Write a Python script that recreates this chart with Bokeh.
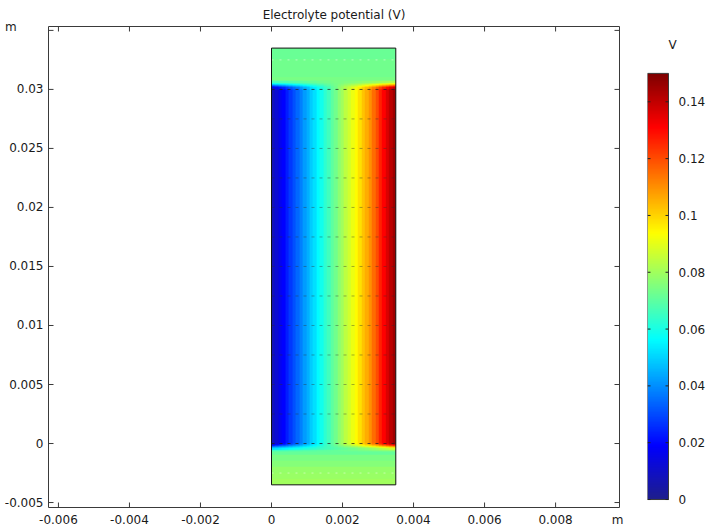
import numpy as np
from bokeh.plotting import figure
from bokeh.models import (Range1d, FixedTicker, LinearAxis, CustomJSTickFormatter,
                          LinearColorMapper, Label)
from bokeh.layouts import row
from bokeh.embed import file_html
from bokeh.resources import INLINE

# ---------------- data ----------------
# electrolyte potential across the channel (0 <= y <= 0.03)
channel_x = [0.0000, 0.0001, 0.0002, 0.0003, 0.0004, 0.0005, 0.0006, 0.0007, 0.0008,
             0.0009, 0.0010, 0.0011, 0.0012, 0.0013, 0.0014, 0.0015, 0.0016, 0.0017,
             0.0018, 0.0019, 0.0020, 0.0021, 0.0022, 0.0023, 0.0024, 0.0025, 0.0026,
             0.0027, 0.0028, 0.0029, 0.0030, 0.0031, 0.0032, 0.0033, 0.0034, 0.0035]
channel_phi = [0.008, 0.012, 0.016, 0.019, 0.023, 0.027, 0.031, 0.034, 0.038,
               0.042, 0.045, 0.049, 0.052, 0.056, 0.059, 0.063, 0.066, 0.070,
               0.073, 0.077, 0.080, 0.084, 0.087, 0.091, 0.094, 0.098, 0.102,
               0.106, 0.110, 0.115, 0.120, 0.126, 0.131, 0.136, 0.141, 0.145]
# reservoir above (bands of 0.0005 m going up from y=0.03)
top_phi = [0.074, 0.074, 0.073, 0.073, 0.073, 0.072, 0.072]
# reservoir below (bands of 0.0005 m going down from y=0)
bottom_phi = [0.067, 0.071, 0.074, 0.076, 0.078, 0.079, 0.080]
# share of the channel profile in the first rows next to each interface
top_blend = [0.92, 0.78, 0.6, 0.42, 0.26, 0.12, 0.04]
bottom_blend = [0.92, 0.78, 0.6, 0.42, 0.26, 0.12, 0.04]

domain_x = [0.0, 0.0035]
domain_y = [-0.0035, 0.0335]
channel_y = [0.0, 0.03]

dash_strong_y = [0.0, 0.03]
dash_mid_y = [0.0025, 0.005, 0.0075, 0.01, 0.0125, 0.015, 0.0175, 0.02, 0.0225, 0.025, 0.0275]
dash_faint_y = [-0.0025, 0.0325]

x_ticks = [-0.006, -0.004, -0.002, 0.0, 0.002, 0.004, 0.006, 0.008]
x_labels = ["-0.006", "-0.004", "-0.002", "0", "0.002", "0.004", "0.006", "0.008"]
y_ticks = [-0.005, 0.0, 0.005, 0.01, 0.015, 0.02, 0.025, 0.03, 0.035]
y_labels = ["-0.005", "0", "0.005", "0.01", "0.015", "0.02", "0.025", "0.03", ""]
cb_ticks = [0.0, 0.02, 0.04, 0.06, 0.08, 0.1, 0.12, 0.14]
cb_labels = ["0", "0.02", "0.04", "0.06", "0.08", "0.1", "0.12", "0.14"]
phi_min, phi_max = 0.0, 0.15
x_lo, x_hi = -0.00628, 0.0098
y_lo, y_hi = -0.00542, 0.03533

title_text = "Electrolyte potential (V)"
unit_text = "m"
cb_title = "V"

FONT = "DejaVu Sans"
FS = "12px"
TXT = "#1a1a1a"
FRAME = "#3a3a3a"

# layout (pixels)
W1, W2, H = 633, 75, 529
ML, MR, MT, MB = 48, 14, 26, 21
FW, FH = W1 - ML - MR, H - MT - MB
CL, CR = 14, 31
CFW = W2 - CL - CR          # colour-bar figure frame width
BAR_W = 21                  # colour bar width in px
BAR_TOP, BAR_BOT = 73, 500  # pixel rows of phi_max and phi_min in the colour bar
TICK = 5

per_px = (phi_max - phi_min) / (BAR_BOT - BAR_TOP)
cb_lo = phi_min - (H - MB - BAR_BOT) * per_px
cb_hi = phi_max + (BAR_TOP - MT) * per_px

# pixel -> data helpers for the main figure (text placement only)
def px_x(px):
    return x_lo + (px - ML) * (x_hi - x_lo) / FW

def px_y(py):
    return y_lo + (H - MB - py) * (y_hi - y_lo) / FH

# ---------------- colormap (jet-like rainbow) ----------------
def jet_palette(n=256):
    out = []
    for t in np.linspace(0, 1, n):
        r = np.clip(1.5 - abs(4 * t - 3), 0, 1)
        g = np.clip(1.5 - abs(4 * t - 2), 0, 1)
        b = np.clip(1.5 - abs(4 * t - 1), 0, 1)
        if t < 0.125:
            k = (0.125 - t) / 0.125
            r = r + 0.12 * k
            g = g + 0.12 * k
            b = b + 0.05 * k
        out.append("#%02x%02x%02x" % (int(r * 255), int(g * 255), int(min(b, 1) * 255)))
    return out

palette = jet_palette()
mapper = LinearColorMapper(palette=palette, low=phi_min, high=phi_max)

# ---------------- field image ----------------
dy = 0.0001
band = 0.0005
nrows = int(round((domain_y[1] - domain_y[0]) / dy))
prof = np.array(channel_phi)
rows = []
for i in range(nrows):
    yc = domain_y[0] + (i + 0.5) * dy
    if channel_y[0] <= yc <= channel_y[1]:
        r_ = prof
    elif yc > channel_y[1]:
        d = yc - channel_y[1]
        base = top_phi[min(int(d / band), len(top_phi) - 1)]
        j = int(d / dy)
        w = top_blend[j] if j < len(top_blend) else 0.0
        r_ = w * prof + (1 - w) * base
    else:
        d = channel_y[0] - yc
        base = bottom_phi[min(int(d / band), len(bottom_phi) - 1)]
        j = int(d / dy)
        w = bottom_blend[j] if j < len(bottom_blend) else 0.0
        r_ = w * prof + (1 - w) * base
    rows.append(r_)
field = np.array(rows)

# ---------------- main figure ----------------
p = figure(width=W1, height=H, output_backend="svg", toolbar_location=None,
           x_range=Range1d(x_lo, x_hi), y_range=Range1d(y_lo, y_hi),
           x_axis_location=None, y_axis_location=None,
           min_border_left=ML, min_border_right=MR, min_border_top=MT, min_border_bottom=MB)
p.grid.visible = False
p.outline_line_color = FRAME
p.outline_line_width = 1
p.background_fill_color = "white"
p.border_fill_color = "white"

p.title.text = title_text
p.title.align = "center"
p.title.text_font = FONT
p.title.text_font_size = FS
p.title.text_font_style = "normal"
p.title.text_color = TXT
p.title.standoff = 10

p.image(image=[field], x=domain_x[0], y=domain_y[0],
        dw=domain_x[1] - domain_x[0], dh=domain_y[1] - domain_y[0], color_mapper=mapper)

p.segment(x0=domain_x[0], x1=domain_x[1], y0=dash_faint_y, y1=dash_faint_y,
          line_color="#ffffff", line_alpha=0.45, line_width=1, line_dash="2 6")
p.segment(x0=domain_x[0], x1=domain_x[1], y0=dash_mid_y, y1=dash_mid_y,
          line_color="#303030", line_alpha=0.4, line_width=1, line_dash="3 5")
p.segment(x0=domain_x[0], x1=domain_x[1], y0=dash_strong_y, y1=dash_strong_y,
          line_color="#202020", line_alpha=0.75, line_width=1, line_dash="3 5")

p.quad(left=domain_x[0], right=domain_x[1], bottom=domain_y[0], top=domain_y[1],
       fill_color=None, line_color="#111111", line_width=1)

# inner ticks on all four edges of the frame
tx = TICK * (x_hi - x_lo) / FW
ty = TICK * (y_hi - y_lo) / FH
p.segment(x0=x_ticks, x1=x_ticks, y0=y_hi, y1=y_hi - ty, line_color=FRAME, line_width=1)
p.segment(x0=x_ticks, x1=x_ticks, y0=y_lo, y1=y_lo + ty, line_color=FRAME, line_width=1)
p.segment(x0=x_hi, x1=x_hi - tx, y0=y_ticks, y1=y_ticks, line_color=FRAME, line_width=1)
p.segment(x0=x_lo, x1=x_lo + tx, y0=y_ticks, y1=y_ticks, line_color=FRAME, line_width=1)

fmt_code = """
let best = 0, bd = Infinity;
for (let i = 0; i < vals.length; i++) {
  const d = Math.abs(vals[i] - tick);
  if (d < bd) { bd = d; best = i; }
}
return labs[best];
"""

def make_axis(ticks, labels, standoff):
    return LinearAxis(ticker=FixedTicker(ticks=ticks),
                      formatter=CustomJSTickFormatter(args=dict(vals=ticks, labs=labels), code=fmt_code),
                      major_tick_in=0, major_tick_out=0, minor_tick_line_color=None,
                      axis_line_color=None, major_tick_line_color=None,
                      major_label_text_font=FONT, major_label_text_color=TXT,
                      major_label_text_font_size=FS, major_label_standoff=standoff)

# the unit "m" of each axis sits with that axis's tick labels
NB = "\u00a0"
y_lab_ticks = y_ticks + [px_y(27)]
y_lab_texts = y_labels + [unit_text + NB * 7]
x_lab_ticks = x_ticks + [px_x(617)]
x_lab_texts = x_labels + [unit_text]

p.add_layout(make_axis(y_lab_ticks, y_lab_texts, 5), "left")
p.add_layout(make_axis(x_lab_ticks, x_lab_texts, 5), "below")

# ---------------- colour bar figure ----------------
cb_xmax = CFW / BAR_W
cb = figure(width=W2, height=H, output_backend="svg", toolbar_location=None,
            x_range=Range1d(0, cb_xmax), y_range=Range1d(cb_lo, cb_hi),
            x_axis_location=None, y_axis_location=None,
            min_border_left=CL, min_border_right=CR, min_border_top=MT, min_border_bottom=MB)
cb.grid.visible = False
cb.outline_line_color = None
cb.background_fill_color = "white"
cb.border_fill_color = "white"
grad = np.linspace(phi_min, phi_max, 256).reshape(256, 1)
cb.image(image=[grad], x=0, y=phi_min, dw=1, dh=phi_max - phi_min, color_mapper=mapper)
cb.quad(left=0, right=1, bottom=phi_min, top=phi_max, fill_color=None,
        line_color=FRAME, line_width=1)
cb.segment(x0=0, x1=3.0 / BAR_W, y0=cb_ticks, y1=cb_ticks, line_color="#222222", line_width=1)
cb.segment(x0=1, x1=1 - 3.0 / BAR_W, y0=cb_ticks, y1=cb_ticks, line_color="#222222", line_width=1)

cb_r = LinearAxis(ticker=FixedTicker(ticks=cb_ticks),
                  formatter=CustomJSTickFormatter(args=dict(vals=cb_ticks, labs=cb_labels), code=fmt_code),
                  major_tick_in=0, major_tick_out=0, minor_tick_line_color=None,
                  axis_line_color=None, major_tick_line_color=None,
                  major_label_text_font=FONT, major_label_text_font_size=FS,
                  major_label_text_color=TXT, major_label_standoff=1)
cb.add_layout(cb_r, "right")
cb_v_x = (672 - W1 - CL) / BAR_W
cb_v_y = phi_max + (BAR_TOP - 45) * per_px
cb.add_layout(Label(x=cb_v_x, y=cb_v_y, text=cb_title,
                    text_align="center", text_baseline="middle", text_font=FONT,
                    text_font_size=FS, text_color=TXT))

layout = row(p, cb)
open("out.html", "w").write(file_html(layout, INLINE))
